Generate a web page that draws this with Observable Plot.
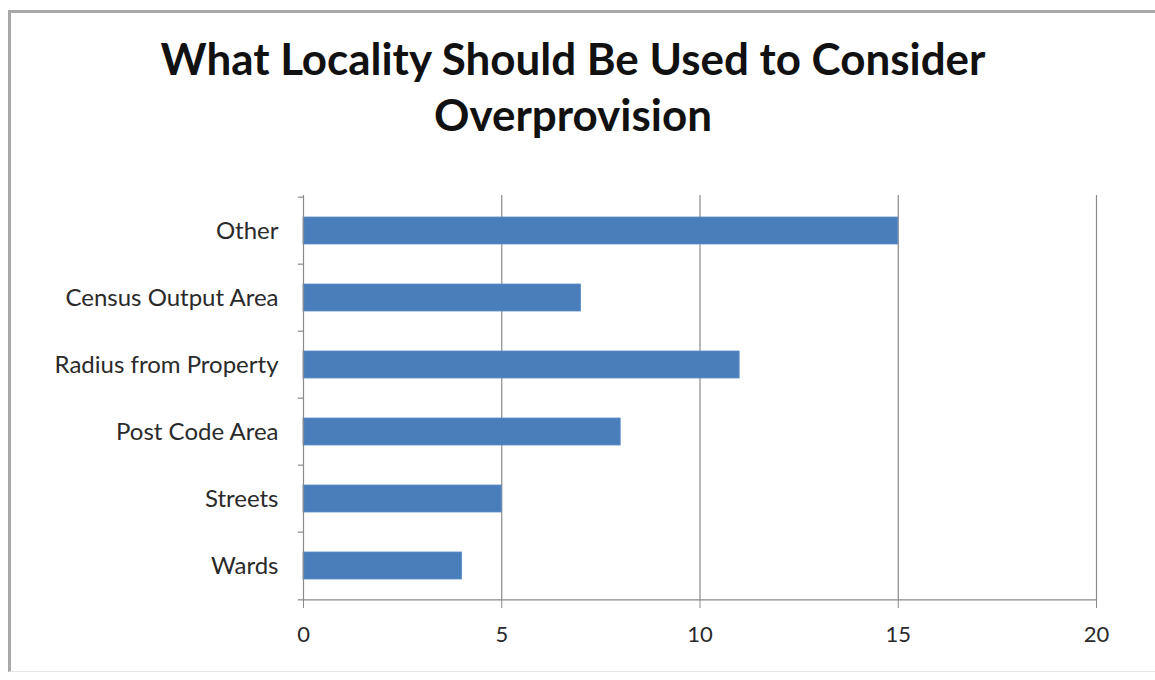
<!DOCTYPE html>
<html>
<head>
<meta charset="utf-8">
<script src="https://cdn.jsdelivr.net/npm/d3@7"></script>
<script src="https://cdn.jsdelivr.net/npm/@observablehq/plot@0.6"></script>
<style>
  html, body { margin: 0; padding: 0; background: #fff; }
  body { width: 1155px; height: 680px; position: relative; overflow: hidden; font-family: Lato, "Open Sans", sans-serif; }
  #frame { position: absolute; left: 8px; top: 10px; width: 1150px; height: 662px; border-top: 3px solid #a8a8a8; border-left: 3px solid #a8a8a8; border-bottom: 1px solid #e4e4e4; box-sizing: border-box; }
  #title { position: absolute; left: 0; width: 1146px; top: 30px; text-align: center; font-weight: bold; color: #111; line-height: 56px; white-space: nowrap; }
  #chart { position: absolute; left: 0; top: 160px; }
</style>
</head>
<body>
<div id="frame"></div>
<div id="title"><span id="t1">What Locality Should Be Used to Consider</span><br><span>Overprovision</span></div>
<div id="chart"></div>
<script>
// Data (top-to-bottom order as in the chart)
const categories = ["Other", "Census Output Area", "Radius from Property", "Post Code Area", "Streets", "Wards"];
const values = [15, 7, 11, 8, 5, 4];
const xTicks = [0, 5, 10, 15, 20];

const data = categories.map((c, i) => ({category: c, value: values[i]}));

// Fit title font size to target width
const title = document.getElementById("title");
title.style.fontSize = "40px";
const w = document.getElementById("t1").getBoundingClientRect().width;
title.style.fontSize = (40 * 825 / w).toFixed(2) + "px";

const H = 520, mTop = 35, mBottom = 79;
const step = (H - mTop - mBottom) / categories.length;
const gray = "#8a8a8a";

const plot = Plot.plot({
  width: 1155,
  height: H,
  marginTop: mTop,
  marginBottom: mBottom,
  marginLeft: 303,
  marginRight: 59,
  style: {fontFamily: "Lato, 'Open Sans', sans-serif", fontSize: "20px", color: "#222", background: "transparent", overflow: "visible"},
  x: {domain: [0, 20], ticks: xTicks},
  y: {domain: categories, paddingInner: 0.6, paddingOuter: 0.3, label: null},
  marks: [
    Plot.ruleX(xTicks.slice(1), {stroke: gray, strokeWidth: 1.2}),
    Plot.barX(data, {x: "value", y: "category", fill: "#4a7ebb", stroke: "#5b8cc6", strokeWidth: 0.8}),
    Plot.ruleX([0], {stroke: gray, strokeWidth: 1.2}),
    Plot.ruleY([categories[categories.length - 1]], {x1: 0, x2: 20, dy: step / 2, stroke: gray, strokeWidth: 1.2}),
    Plot.ruleY(categories, {x1: -0.13, x2: 0, dy: -step / 2, stroke: gray, strokeWidth: 1.2, clip: false}),
    Plot.ruleY([categories[categories.length - 1]], {x1: -0.13, x2: 0, dy: step / 2, stroke: gray, strokeWidth: 1.2, clip: false}),
    Plot.axisY({tickSize: 0, tickPadding: 25, label: null, fill: "#2a2a2a", fontSize: 24}),
    Plot.axisX({ticks: xTicks, tickSize: 7, tickPadding: 18, label: null, stroke: gray, fill: "#2a2a2a", fontSize: 22})
  ]
});
document.getElementById("chart").appendChild(plot);
</script>
</body>
</html>
